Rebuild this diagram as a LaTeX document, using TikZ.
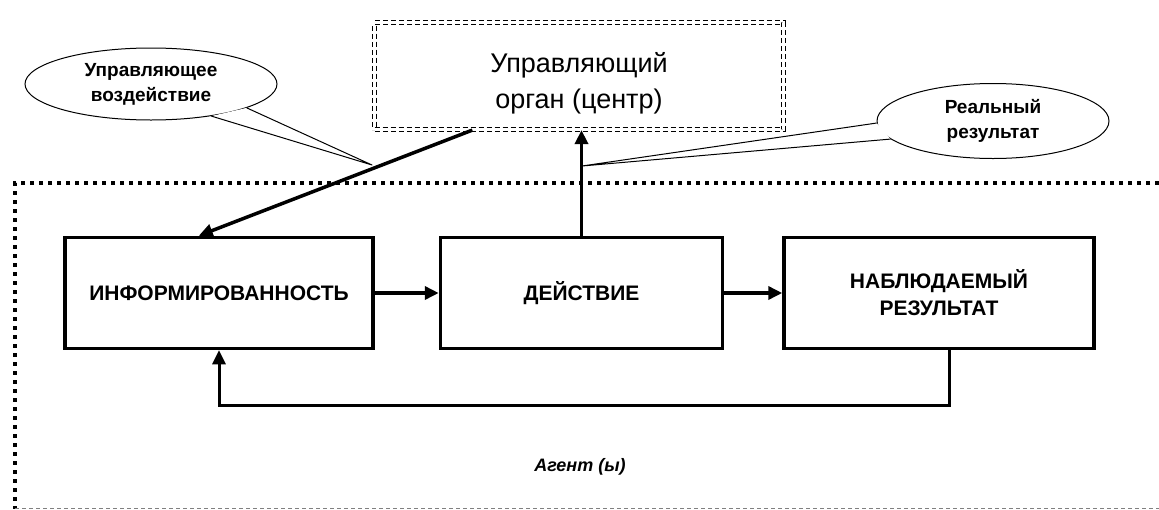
\documentclass[tikz,border=0pt]{standalone}
\usepackage{fontspec}
\setmainfont{Liberation Sans}
\usetikzlibrary{positioning,shapes.geometric,arrows.meta,calc}
\tikzset{
    blk/.style = {draw, line width=3.5pt, minimum width=308pt, minimum height=111pt, align=center, inner sep=0pt, font=\fontsize{21}{27}\selectfont\bfseries},
    callout/.style = {ellipse, draw, line width=1pt, fill=white, inner sep=0pt, align=center, font=\fontsize{19}{25}\selectfont\bfseries},
    arr/.style = {line width=3.5pt, -{Triangle[length=14pt,width=13pt]}},
    tail/.style = {line width=1pt, line join=round}
}

\begin{document}
\begin{tikzpicture}[x=1pt, y=-1pt]
\useasboundingbox (0,0) rectangle (1159,509);
% agent frame (y runs downwards here)
\draw[line width=4pt, dash pattern=on 4pt off 5pt] (1159,183) -- (15,183) -- (15,509);
\draw[gray, line width=0.7pt, dash pattern=on 4pt off 3pt] (15,508) -- (1159,508);
\node[font=\fontsize{18}{22}\selectfont\bfseries\itshape] (agent) at (580,467) {Агент (ы)};

% control centre
\node[draw, double, double distance=3pt, line width=1.2pt, dash pattern=on 5pt off 3pt, minimum width=409pt, minimum height=107pt, align=center, font=\fontsize{27}{36}\selectfont] (ctr) at (579,76) {\rule{0pt}{34pt}Управляющий\\орган (центр)};

% the three blocks
\node[blk] (info) at (219,293) {ИНФОРМИРОВАННОСТЬ};
\node[blk, minimum width=282pt, right=64pt of info] (act) {ДЕЙСТВИЕ};
\node[blk, minimum width=310pt, right=58pt of act] (obs) {НАБЛЮДАЕМЫЙ\\РЕЗУЛЬТАТ};

% callouts
\node[callout, minimum width=252pt, minimum height=72pt] (vozd) at (151,84) {Управляющее\\воздействие};
\node[callout, minimum width=232pt, minimum height=75pt] (real) at (993,121) {Реальный\\результат};
\coordinate (vtip) at (372,165);
\coordinate (rtip) at (582,166);
\fill[white] (vozd.-14) -- (vtip) -- (vozd.-28) -- cycle;
\draw[tail] (vozd.-14) -- (vtip) -- (vozd.-28);
\fill[white] (real.181) -- (rtip) -- (real.190) -- cycle;
\draw[tail] (real.181) -- (rtip) -- (real.190);

% connectors
\draw[arr] ($(ctr.south west)!0.24!(ctr.south east)$) -- ($(info.north west)!0.435!(info.north east)$);
\draw[arr] (act.north) -- (act.north |- ctr.south);
\draw[arr] (info) -- (act);
\draw[arr] (act) -- (obs);
\draw[arr, line width=3pt] ($(obs.south west)!0.535!(obs.south east)$) -- ++(0,55) -| (info.south);
\end{tikzpicture}
\end{document}
